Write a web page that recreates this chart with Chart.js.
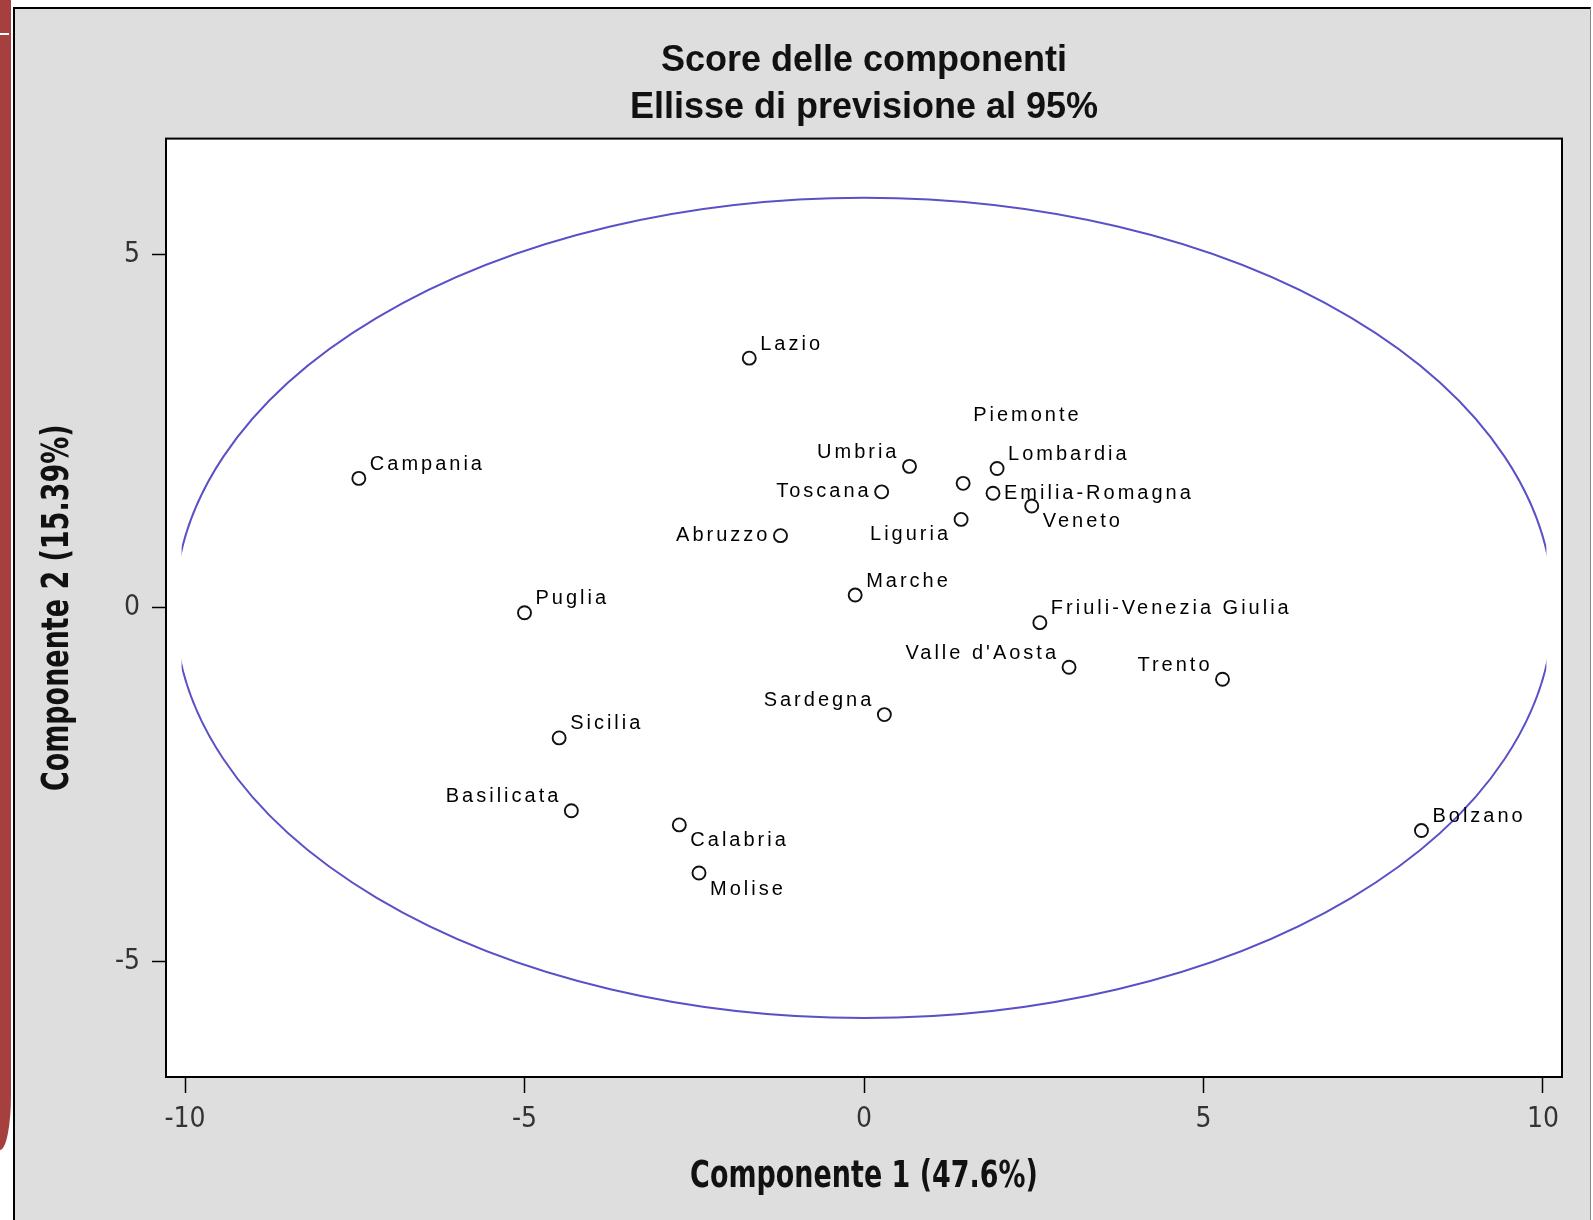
<!DOCTYPE html>
<html>
<head>
<meta charset="utf-8">
<title>Score delle componenti</title>
<script src="https://cdn.jsdelivr.net/npm/chart.js@4.4.0/dist/chart.umd.min.js"></script>
<style>
  html, body { margin: 0; padding: 0; background: #fff; width: 1593px; height: 1220px; overflow: hidden; }
  #redbar { position: absolute; left: 0; top: 0; width: 11px; height: 1150px; background: #a5403f; border-bottom-right-radius: 11px 55px; }
  #dash { position: absolute; left: 0; top: 33px; width: 9px; height: 2px; background: #fff; }
  #panel { position: absolute; left: 13px; top: 7px; width: 1575px; height: 1213px; background: #dedede;
           border-left: 2px solid #000; border-top: 2px solid #000; border-right: 1px solid #8a8a8a; }
  #myChart { position: absolute; left: 15px; top: 9px; }
</style>
</head>
<body>
<div id="redbar"></div>
<div id="dash"></div>
<div id="panel"></div>
<canvas id="myChart" width="1575" height="1211"></canvas>
<script>
// PCA scores per region
const regions = ['Campania', 'Lazio', 'Umbria', 'Piemonte', 'Lombardia', 'Toscana',
  'Emilia-Romagna', 'Veneto', 'Liguria', 'Abruzzo', 'Marche', 'Puglia',
  'Friuli-Venezia Giulia', "Valle d'Aosta", 'Trento', 'Sardegna', 'Sicilia',
  'Basilicata', 'Calabria', 'Molise', 'Bolzano'];
const comp1 = [-7.44, -1.69, 0.67, 1.46, 1.96, 0.26, 1.90, 2.47, 1.43, -1.23, -0.13, -5.00,
  2.59, 3.02, 5.28, 0.30, -4.49, -4.31, -2.72, -2.43, 8.21];
const comp2 = [1.83, 3.53, 2.00, 1.76, 1.97, 1.64, 1.62, 1.44, 1.25, 1.02, 0.18, -0.07,
  -0.21, -0.84, -1.01, -1.51, -1.84, -2.87, -3.07, -3.75, -3.15];

const xTicks = [-10, -5, 0, 5, 10];
const yTicks = [-5, 0, 5];
const xTitle = 'Componente 1 (47.6%)';
const yTitle = 'Componente 2 (15.39%)';

// 95% prediction ellipse (centre and semi-axes in score units)
const ellipseCenter = [0, 0];
const ellipseRadii = [10.15, 5.8];
const ellipseClipX = 10.05;

// where each label sits around its marker
const labelPos = ['tr', 'tr', 'tl', 'far', 'tr', 'l', 'r', 'br', 'bl', 'l', 'tr', 'tr',
  'tr', 'tl', 'tl', 'tl', 'tr', 'tl', 'br', 'br', 'tr'];
const offsets = {
  tr: [11, -14, 'left'], tl: [-10, -14, 'right'], l: [-10, 0, 'right'], r: [11, 0, 'left'],
  br: [11, 16, 'left'], bl: [-10, 15, 'right'], far: [10, -68, 'left']
};

const ellipsePlugin = {
  id: 'ellipse',
  beforeDatasetsDraw(chart) {
    const ctx = chart.ctx, xs = chart.scales.x, ys = chart.scales.y, a = chart.chartArea;
    const cx = xs.getPixelForValue(ellipseCenter[0]), cy = ys.getPixelForValue(ellipseCenter[1]);
    const rx = xs.getPixelForValue(ellipseCenter[0] + ellipseRadii[0]) - cx;
    const ry = cy - ys.getPixelForValue(ellipseCenter[1] + ellipseRadii[1]);
    const x0 = xs.getPixelForValue(-ellipseClipX), x1 = xs.getPixelForValue(ellipseClipX);
    ctx.save();
    ctx.beginPath();
    ctx.rect(x0, a.top, x1 - x0, a.bottom - a.top);
    ctx.clip();
    ctx.beginPath();
    ctx.ellipse(cx, cy, rx, ry, 0, 0, Math.PI * 2);
    ctx.strokeStyle = '#5a50c8';
    ctx.lineWidth = 2;
    ctx.stroke();
    ctx.restore();
  }
};

const framePlugin = {
  id: 'frame',
  beforeDraw(chart) {
    const a = chart.chartArea, ctx = chart.ctx;
    ctx.save();
    ctx.fillStyle = '#fff';
    ctx.fillRect(a.left, a.top, a.right - a.left, a.bottom - a.top);
    ctx.restore();
  },
  afterDraw(chart) {
    const a = chart.chartArea, ctx = chart.ctx;
    ctx.save();
    ctx.strokeStyle = '#000';
    ctx.lineWidth = 2;
    ctx.strokeRect(a.left, a.top, a.right - a.left, a.bottom - a.top);
    ctx.restore();
  }
};

// axis titles in a narrow bold face (squeezed horizontally, like the SAS output)
const axisTitlePlugin = {
  id: 'axisTitles',
  afterDraw(chart) {
    const a = chart.chartArea, ctx = chart.ctx;
    ctx.save();
    ctx.font = 'bold 37px "DejaVu Sans Condensed", "DejaVu Sans", sans-serif';
    ctx.fillStyle = '#111';
    ctx.textAlign = 'center';
    ctx.textBaseline = 'middle';
    ctx.save();
    ctx.translate((a.left + a.right) / 2, 1168);
    ctx.scale(0.81, 1);
    ctx.fillText(xTitle, 0, 0);
    ctx.restore();
    ctx.save();
    ctx.translate(43, (a.top + a.bottom) / 2);
    ctx.rotate(-Math.PI / 2);
    ctx.scale(0.81, 1);
    ctx.fillText(yTitle, 0, 0);
    ctx.restore();
    ctx.restore();
  }
};

const labelPlugin = {
  id: 'pointLabels',
  afterDatasetsDraw(chart) {
    const ctx = chart.ctx;
    const meta = chart.getDatasetMeta(0);
    ctx.save();
    ctx.font = '20px "Liberation Sans", Arial, sans-serif';
    ctx.letterSpacing = '3px';
    ctx.fillStyle = '#000';
    ctx.textBaseline = 'middle';
    meta.data.forEach(function (pt, i) {
      const o = offsets[labelPos[i]];
      ctx.textAlign = o[2];
      ctx.fillText(regions[i], pt.x + o[0], pt.y + o[1]);
    });
    ctx.restore();
  }
};

const tickFont = { family: '"DejaVu Sans Condensed", sans-serif', size: 28 };

var ctx = document.getElementById('myChart').getContext('2d');
var myChart = new Chart(ctx, {
  type: 'scatter',
  data: {
    datasets: [{
      label: 'Score',
      data: regions.map(function (r, i) { return { x: comp1[i], y: comp2[i] }; }),
      pointStyle: 'circle',
      pointRadius: 6.5,
      pointHoverRadius: 6.5,
      backgroundColor: 'rgba(0,0,0,0)',
      borderColor: '#111',
      borderWidth: 1.9
    }]
  },
  options: {
    responsive: false,
    animation: false,
    layout: { padding: { left: 0, right: 28, top: 0, bottom: 0 } },
    plugins: {
      legend: { display: false },
      tooltip: { enabled: false },
      title: {
        display: true,
        fullSize: false,
        text: ['Score delle componenti', 'Ellisse di previsione al 95%'],
        color: '#111',
        font: { family: '"Liberation Sans", Arial, sans-serif', size: 36, weight: 'bold', lineHeight: 1.3 },
        padding: { top: 29, bottom: 7 }
      }
    },
    scales: {
      x: {
        type: 'linear',
        min: -10.28,
        max: 10.28,
        afterBuildTicks: function (s) { s.ticks = xTicks.map(function (v) { return { value: v }; }); },
        afterFit: function (s) { s.height = 143; },
        ticks: { font: tickFont, color: '#333', padding: 10 },
        grid: { drawOnChartArea: false, drawTicks: true, tickLength: 16, tickColor: '#000', tickWidth: 1.5 },
        border: { display: false },
        title: { display: false }
      },
      y: {
        type: 'linear',
        min: -6.635,
        max: 6.635,
        afterBuildTicks: function (s) { s.ticks = yTicks.map(function (v) { return { value: v }; }); },
        afterFit: function (s) { s.width = 151; },
        ticks: { font: tickFont, color: '#333', padding: 12 },
        grid: { drawOnChartArea: false, drawTicks: true, tickLength: 14, tickColor: '#000', tickWidth: 1.5 },
        border: { display: false },
        title: { display: false }
      }
    }
  },
  plugins: [framePlugin, ellipsePlugin, labelPlugin, axisTitlePlugin]
});
</script>
</body>
</html>
